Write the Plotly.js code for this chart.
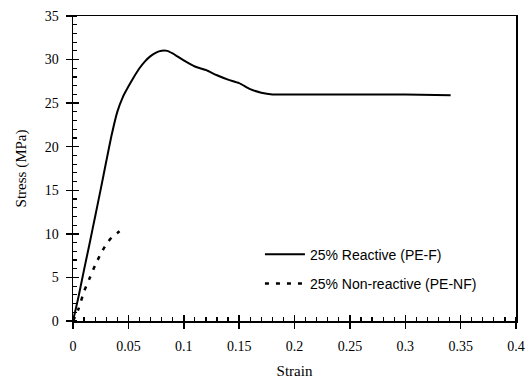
<!DOCTYPE html>
<html>
<head>
<meta charset="utf-8">
<script src="https://cdn.plot.ly/plotly-3.0.1.min.js"></script>
<style>html,body{margin:0;padding:0;background:#fff;}#chart{width:530px;height:383px;}</style>
</head>
<body>
<div id="chart"></div>
<script>
const reactiveName = "25% Reactive (PE-F)";
const reactiveStrain = [0, 0.005, 0.01, 0.015, 0.02, 0.025, 0.03, 0.035, 0.04, 0.045, 0.05, 0.055, 0.06, 0.065, 0.07, 0.075, 0.08, 0.085, 0.09, 0.095, 0.1, 0.11, 0.12, 0.13, 0.14, 0.15, 0.16, 0.17, 0.18, 0.2, 0.25, 0.3, 0.341];
const reactiveStress = [0, 2.8, 5.9, 8.9, 12.0, 15.1, 18.3, 21.4, 24.0, 25.7, 26.9, 28.0, 29.0, 29.8, 30.4, 30.8, 31.0, 31.0, 30.7, 30.3, 29.9, 29.2, 28.8, 28.2, 27.7, 27.3, 26.6, 26.2, 26.0, 26.0, 26.0, 26.0, 25.9];

const nonReactiveName = "25% Non-reactive (PE-NF)";
const nonReactiveStrain = [0, 0.005, 0.01, 0.015, 0.02, 0.025, 0.03, 0.035, 0.04, 0.042];
const nonReactiveStress = [0, 1.4, 3.4, 4.9, 6.4, 7.7, 8.8, 9.6, 10.1, 10.3];

const xTickVals = [0, 0.05, 0.1, 0.15, 0.2, 0.25, 0.3, 0.35, 0.4];
const xTickText = ["0", "0.05", "0.1", "0.15", "0.2", "0.25", "0.3", "0.35", "0.4"];
const yTickVals = [0, 5, 10, 15, 20, 25, 30, 35];

const serif = "Liberation Serif, Times New Roman, serif";
const sans = "Liberation Sans, Arial, sans-serif";

const traces = [
  {x: reactiveStrain, y: reactiveStress, name: reactiveName, mode: "lines", type: "scatter",
   line: {color: "#000", width: 2, shape: "spline", smoothing: 0.6}, legendgroup: "a"},
  {x: nonReactiveStrain, y: nonReactiveStress, name: nonReactiveName, mode: "lines", type: "scatter",
   line: {color: "#000", width: 2.5, dash: "4px,7px", shape: "spline", smoothing: 0.6}, legendgroup: "b"},
  {x: [], y: [], xaxis: "x2", yaxis: "y2", showlegend: false, type: "scatter"}
];

const layout = {
  width: 530, height: 383,
  margin: {l: 73, r: 14, t: 16, b: 62},
  paper_bgcolor: "#fff", plot_bgcolor: "#fff",
  showlegend: true,
  legend: {x: 0.422, y: 0.17, xanchor: "left", yanchor: "middle", bgcolor: "rgba(0,0,0,0)",
           itemwidth: 40,
           font: {family: sans, size: 14, color: "#000"}, tracegroupgap: 8},
  xaxis: {range: [0, 0.4], tickvals: xTickVals, ticktext: xTickText, ticks: "outside", ticklen: 6,
          tickwidth: 1.5, tickcolor: "#000", showline: true, linecolor: "#000", linewidth: 1.5,
          mirror: true, showgrid: false, zeroline: false,
          minor: {dtick: 0.01, ticks: "inside", ticklen: 4, tickcolor: "#000", tickwidth: 1.2, showgrid: false},
          tickfont: {family: serif, size: 14, color: "#000"}, ticklabelstandoff: 6,
          title: {text: "Strain", font: {family: serif, size: 15, color: "#000"}, standoff: 12}},
  yaxis: {range: [0, 35], tickvals: yTickVals, ticks: "outside", ticklen: 6,
          tickwidth: 1.5, tickcolor: "#000", showline: true, linecolor: "#000", linewidth: 1.5,
          mirror: true, showgrid: false, zeroline: false,
          minor: {dtick: 1, ticks: "inside", ticklen: 4, tickcolor: "#000", tickwidth: 1.2, showgrid: false},
          tickfont: {family: serif, size: 14, color: "#000"}, ticklabelstandoff: 4,
          title: {text: "Stress (MPa)", font: {family: serif, size: 15, color: "#000"}, standoff: 14}},
  xaxis2: {overlaying: "x", range: [0, 0.4], tickvals: xTickVals, ticks: "inside", ticklen: 6, tickwidth: 1.5,
           tickcolor: "#000", showticklabels: false, showgrid: false, zeroline: false, showline: false, anchor: "y2"},
  yaxis2: {overlaying: "y", range: [0, 35], tickvals: yTickVals, ticks: "inside", ticklen: 6, tickwidth: 1.5,
           tickcolor: "#000", showticklabels: false, showgrid: false, zeroline: false, showline: false, anchor: "x2"}
};

Plotly.newPlot("chart", traces, layout, {displayModeBar: false, staticPlot: true});
</script>
</body>
</html>
